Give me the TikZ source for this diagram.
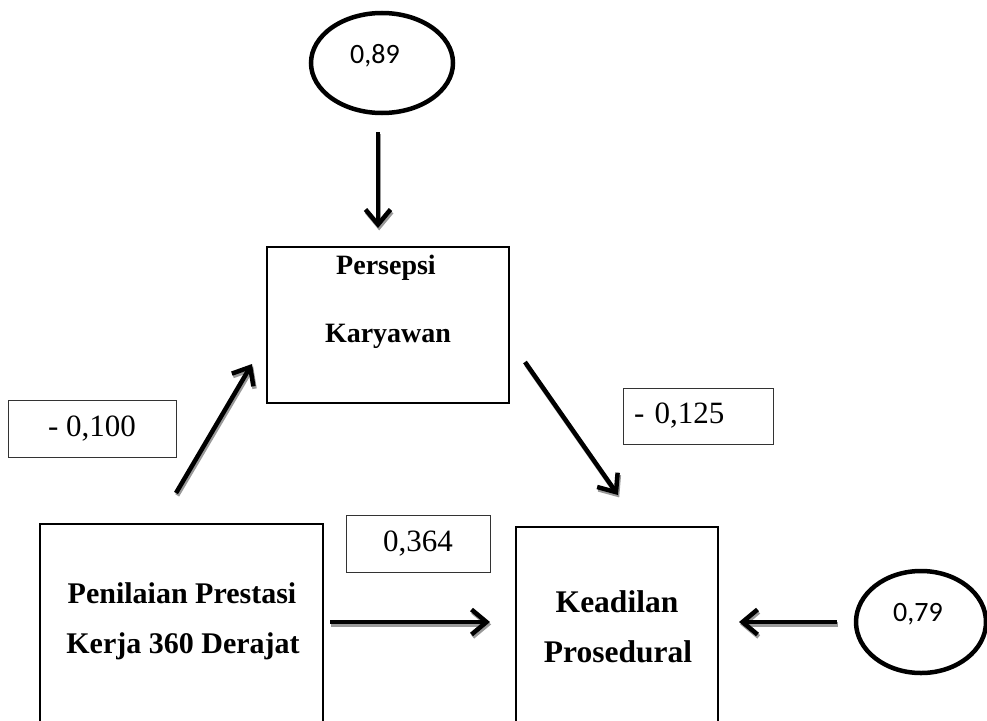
\documentclass[tikz,border=0pt]{standalone}
\usepackage{fontspec}
\setmainfont{Liberation Serif}
\newfontfamily\calib{Carlito}
\usetikzlibrary{arrows.meta,shapes.geometric}
\begin{document}
\begin{tikzpicture}[x=1pt,y=-1pt,
  box/.style={draw, line width=2.2pt, rectangle, inner sep=0pt},
  txt/.style={inner sep=0pt, anchor=base, font=\bfseries\fontsize{#1}{34}\selectfont},
  lab/.style={draw=black!80, line width=0.9pt, rectangle, inner sep=0pt, font=\fontsize{31}{36}\selectfont},
  err/.style={draw, ellipse, line width=4.5pt, inner sep=0pt},
  errtxt/.style={inner sep=0pt, font=\calib\fontsize{28}{33}\selectfont},
  arr/.style={line width=4.5pt, line cap=butt, -{Straight Barb[length=15pt,width=25pt]}},
  shd/.style={arr, draw=black!40, transform canvas={shift={(1.2pt,-2.4pt)}}}
]
\useasboundingbox (0,0) rectangle (987,720);
\clip (0,0) rectangle (987,720);

% error ellipses
\node[err, minimum width=142pt, minimum height=100pt] (e1) at (382,63) {};
\node[errtxt] (e1t) at (375,56) {0,89};
\node[err, minimum width=130pt, minimum height=102pt] (e2) at (921,622) {};
\node[errtxt] (e2t) at (918,614) {0,79};

% main boxes
\node[box, minimum width=242pt, minimum height=156pt] (pk) at (388,325) {};
\node[txt=28] (pk1) at (386,274) {Persepsi};
\node[txt=28] (pk2) at (388,342) {Karyawan};

\node[box, minimum width=283pt, minimum height=236pt] (pp) at (181.5,642) {};
\node[txt=30] (pp1) at (182,603) {Penilaian Prestasi};
\node[txt=30] (pp2) at (183,653) {Kerja 360 Derajat};

\node[box, minimum width=202pt, minimum height=233pt] (kp) at (617,643.5) {};
\node[txt=31.5] (kp1) at (617,612) {Keadilan};
\node[txt=31.5] (kp2) at (618,662) {Prosedural};

% coefficient labels
\node[lab, minimum width=168pt, minimum height=57pt] (l1) at (92,428.5) {- 0,100};
\node[lab, minimum height=56pt, inner xsep=11pt, text width=128pt, align=left] (l2) at (698,416) {- 0,125};
\node[lab, minimum width=144pt, minimum height=57pt] (l3) at (418,543.5) {0,364};

% arrow end points
\coordinate (a1s) at (378,132); \coordinate (a1e) at (378,228);
\coordinate (a2s) at (176,493); \coordinate (a2e) at (252,364);
\coordinate (a3s) at (525,362); \coordinate (a3e) at (618,495);
\coordinate (a4s) at (330,622); \coordinate (a4e) at (490,622);
\coordinate (a5s) at (837,622); \coordinate (a5e) at (739,622);

% shadows
\draw[shd] (a1s) -- (a1e);
\draw[shd] (a2s) -- (a2e);
\draw[shd] (a3s) -- (a3e);
\draw[shd] (a4s) -- (a4e);
\draw[shd] (a5s) -- (a5e);
% arrows
\draw[arr] (a1s) -- (a1e);
\draw[arr] (a2s) -- (a2e);
\draw[arr] (a3s) -- (a3e);
\draw[arr] (a4s) -- (a4e);
\draw[arr] (a5s) -- (a5e);
\end{tikzpicture}
\end{document}
